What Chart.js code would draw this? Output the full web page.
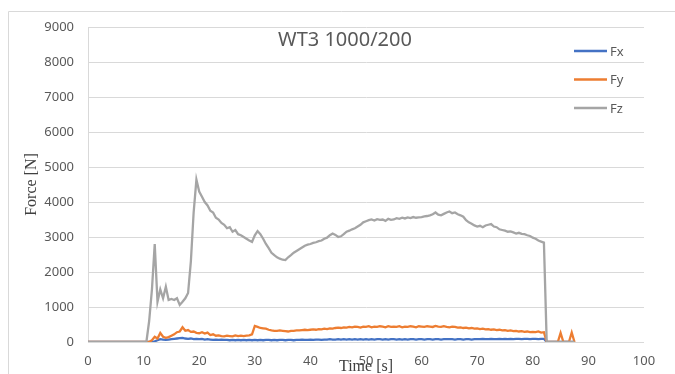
<!DOCTYPE html>
<html>
<head>
<meta charset="utf-8">
<script src="https://cdn.jsdelivr.net/npm/chart.js@4.4.1/dist/chart.umd.min.js"></script>
<style>
  html, body { margin: 0; padding: 0; background: #fff; }
  #chart { display: block; }
</style>
</head>
<body>
<canvas id="chart" width="675" height="374"></canvas>
<script>
// WT3 1000/200 - kuvvet / zaman (0.5 s adım)
const chartTitle = 'WT3 1000/200';
const seriesNames = ['Fx', 'Fy', 'Fz'];
const xTicks = [0, 10, 20, 30, 40, 50, 60, 70, 80, 90, 100];
const yTicks = [0, 1000, 2000, 3000, 4000, 5000, 6000, 7000, 8000, 9000];

const fx = [
  0,0,0,0,0,0,0,0,0,0,
  0,0,0,0,0,0,0,0,0,0,
  0,0,0,0,20,50,80,70,60,70,
  80,90,100,110,120,100,90,100,80,90,
  80,90,70,80,70,60,70,60,70,60,
  60,50,60,50,60,50,60,50,60,50,
  60,50,60,50,60,60,50,60,50,60,
  60,50,60,60,50,60,60,70,60,60,
  70,60,70,70,60,70,70,80,70,70,
  80,70,80,70,80,70,80,70,80,70,
  80,70,80,70,80,80,70,80,70,80,
  80,70,80,70,80,70,80,80,70,80,
  80,70,80,80,70,80,80,70,80,80,
  80,80,70,80,80,70,80,80,70,80,
  80,80,90,80,80,90,80,80,90,80,
  90,80,90,80,90,90,80,90,90,80,
  90,90,80,90,90,0,0,0,0,0,
  0,0,0,0,0,0
];

const fy = [
  0,0,0,0,0,0,0,0,0,0,
  0,0,0,0,0,0,0,0,0,0,
  0,0,0,50,150,100,260,150,120,140,
  180,220,280,300,420,320,340,290,300,260,
  250,280,240,270,200,220,180,190,170,160,
  180,170,160,190,170,180,170,180,190,220,
  460,430,400,390,380,350,330,320,320,330,
  320,310,300,320,320,330,330,340,350,340,
  350,360,350,370,360,380,370,390,380,400,
  410,400,420,410,430,420,440,430,410,440,
  430,450,420,440,430,450,440,420,450,430,
  440,430,450,420,440,430,450,440,420,450,
  440,430,450,440,430,460,440,430,450,430,
  420,440,430,410,420,400,410,390,400,380,
  390,370,380,360,370,350,360,340,350,330,
  340,320,330,310,320,300,310,290,300,280,
  290,280,300,270,280,0,0,0,0,0,
  260,0,0,0,270,0
];

const fz = [
  0,0,0,0,0,0,0,0,0,0,
  0,0,0,0,0,0,0,0,0,0,
  0,0,600,1500,2800,1150,1500,1250,1580,1200,
  1230,1200,1250,1060,1150,1250,1400,2300,3700,4640,
  4300,4150,4000,3900,3750,3700,3550,3500,3400,3350,
  3250,3280,3150,3200,3080,3050,3000,2950,2900,2860,
  3050,3170,3080,2950,2800,2680,2550,2480,2420,2380,
  2350,2340,2420,2480,2550,2600,2650,2700,2750,2780,
  2800,2830,2850,2880,2900,2950,2980,3050,3100,3060,
  3000,3020,3080,3150,3180,3220,3250,3300,3350,3420,
  3450,3480,3500,3470,3510,3490,3500,3460,3520,3490,
  3500,3540,3520,3550,3530,3560,3540,3570,3550,3560,
  3570,3590,3600,3620,3650,3700,3640,3620,3660,3700,
  3730,3680,3700,3650,3620,3580,3480,3420,3380,3330,
  3300,3320,3280,3330,3350,3370,3300,3280,3220,3200,
  3180,3150,3160,3130,3100,3120,3090,3080,3050,3030,
  2980,2950,2900,2870,2840,0,0,0,0,0,
  0,0,0,0,0,0
];

const time = fz.map((_, i) => i * 0.5);
const colors = ['#4472C4', '#ED7D31', '#A5A5A5'];

function toPoints(values) {
  return values.map((v, i) => ({ x: time[i], y: v }));
}

// başlık, lejant ve eksen yazıları elle çiziliyor
const decorations = {
  id: 'decorations',
  beforeDraw(chart) {
    const ctx = chart.ctx;
    ctx.save();
    ctx.strokeStyle = '#d9d9d9';
    ctx.lineWidth = 1;
    ctx.beginPath();
    ctx.moveTo(8.5, 374);
    ctx.lineTo(8.5, 11.5);
    ctx.lineTo(675, 11.5);
    ctx.stroke();
    ctx.restore();
  },
  afterDraw(chart) {
    const ctx = chart.ctx;
    const area = chart.chartArea;
    ctx.save();

    ctx.fillStyle = '#595959';
    ctx.font = '20px "Noto Sans"';
    ctx.textAlign = 'center';
    ctx.textBaseline = 'middle';
    ctx.fillText(chartTitle, 345, 40);

    ctx.font = '13px "Noto Sans"';
    ctx.textAlign = 'left';
    seriesNames.forEach((name, i) => {
      const y = 51 + i * 28.5;
      ctx.strokeStyle = colors[i];
      ctx.lineWidth = 2.5;
      ctx.beginPath();
      ctx.moveTo(574, y);
      ctx.lineTo(607, y);
      ctx.stroke();
      ctx.fillStyle = '#595959';
      ctx.fillText(name, 610, y + 1);
    });

    ctx.fillStyle = '#404040';
    ctx.font = '16px "Liberation Serif"';
    ctx.textAlign = 'center';
    ctx.fillText('Time [s]', (area.left + area.right) / 2, 367);

    ctx.translate(32, (area.top + area.bottom) / 2);
    ctx.rotate(-Math.PI / 2);
    ctx.fillText('Force [N]', 0, 0);
    ctx.restore();
  }
};

new Chart(document.getElementById('chart').getContext('2d'), {
  type: 'line',
  data: {
    datasets: [
      { label: seriesNames[0], data: toPoints(fx), borderColor: colors[0], order: 2 },
      { label: seriesNames[1], data: toPoints(fy), borderColor: colors[1], order: 1 },
      { label: seriesNames[2], data: toPoints(fz), borderColor: colors[2], order: 0 }
    ]
  },
  options: {
    responsive: false,
    animation: false,
    events: [],
    layout: { padding: { left: 0, right: 31, top: 27, bottom: 0 } },
    elements: {
      line: { borderWidth: 2.3, tension: 0, fill: false },
      point: { radius: 0 }
    },
    plugins: {
      legend: { display: false },
      title: { display: false },
      tooltip: { enabled: false }
    },
    scales: {
      x: {
        type: 'linear',
        min: 0,
        max: 100,
        afterFit(scale) { scale.height = 32; },
        afterBuildTicks(scale) { scale.ticks = xTicks.map(v => ({ value: v })); },
        grid: { display: false, drawTicks: false },
        border: { display: false },
        ticks: {
          padding: 11, color: '#595959', font: { family: 'Noto Sans', size: 13 }, maxRotation: 0,
          callback: v => String(v)
        }
      },
      y: {
        min: 0,
        max: 9000,
        afterFit(scale) { scale.width = 88; },
        afterBuildTicks(scale) { scale.ticks = yTicks.map(v => ({ value: v })); },
        grid: { color: '#d9d9d9', lineWidth: 1, drawTicks: false },
        border: { display: true, color: '#d9d9d9' },
        ticks: {
          padding: 14, color: '#595959', font: { family: 'Noto Sans', size: 13 },
          callback: v => String(v)
        }
      }
    }
  },
  plugins: [decorations]
});
</script>
</body>
</html>
